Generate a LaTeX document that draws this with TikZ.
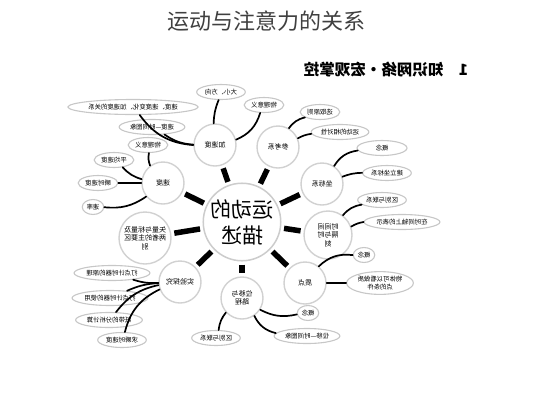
\documentclass[tikz,border=0pt]{standalone}
\usepackage{fontspec}
\newfontfamily\cjk{Noto Sans CJK SC}
\usetikzlibrary{shapes.geometric}

\tikzset{
  mirror/.style={xscale=-1},
  hub/.style={circle, draw=black!20, line width=1.5pt, fill=white, minimum size=76pt,
    inner sep=0pt, align=center, font=\cjk\fontsize{21}{26}\selectfont, mirror},
  topic/.style={circle, draw=black!18, line width=1.4pt, fill=white, minimum size=42pt,
    inner sep=0pt, align=center, font=\cjk\fontsize{7}{8.5}\selectfont, mirror},
  leaf/.style={ellipse, draw=black!22, line width=1.1pt, fill=white, inner sep=1.2pt,
    minimum height=15pt, align=center, font=\cjk\fontsize{6.4}{7.8}\selectfont, mirror},
  spoke/.style={line width=5.5pt, shorten <=3pt, shorten >=3pt},
  twig/.style={line width=1.7pt, line cap=round},
}

\begin{document}
\begin{tikzpicture}[x=1pt,y=-1pt]
  \useasboundingbox (0,0) rectangle (533,400);

  % Titles
  \node[font=\cjk\fontsize{22}{26}\selectfont, text=black!75] (title) at (266,21) {运动与注意力的关系};
  \node[font=\cjk\bfseries\fontsize{15.5}{18}\selectfont, mirror] (head) at (386,70) {1\quad 知识网络·宏观掌控};

  % Define nodes
  \node[hub]   (c)   at (242,222) {运动的\\描述};
  \node[topic] (jsd) at (215,145) {加速度};
  \node[topic] (sd)  at (163,183) {速度};
  \node[topic, minimum size=52pt] (sl) at (145,238) {矢量与标量及\\两者的主要区\\别};
  \node[topic] (sy)  at (180,282) {实验探究};
  \node[topic] (wy)  at (242,298) {位移与\\路程};
  \node[topic] (zd)  at (305,283) {质点};
  \node[topic, minimum size=48pt] (sj) at (328,235) {时间间\\隔与时\\刻};
  \node[topic] (zb)  at (322,184) {坐标系};
  \node[topic] (ck)  at (278,147) {参考系};

  \node[leaf] (jsd-dx) at (221,92)  {大小、方向};
  \node[leaf] (jsd-gx) at (133,107) {速度、速度变化、加速度的关系};
  \node[leaf] (jsd-vt) at (152,127) {速度—时间图象};
  \node[leaf] (jsd-yy) at (264,105) {物理意义};

  \node[leaf] (sd-yy) at (148,145) {物理意义};
  \node[leaf] (sd-pj) at (114,160) {平均速度};
  \node[leaf] (sd-ss) at (98,183)  {瞬时速度};
  \node[leaf] (sd-sl) at (93,207)  {速率};

  \node[leaf] (sy-yl) at (112,273) {打点计时器的原理};
  \node[leaf] (sy-sy) at (110,298) {打点计时器的使用};
  \node[leaf] (sy-zd) at (109,320) {纸带的分析计算};
  \node[leaf] (sy-qs) at (122,340) {求瞬时速度};

  \node[leaf] (wy-qb) at (216,338) {区别与联系};
  \node[leaf] (wy-gn) at (308,313) {概念};
  \node[leaf] (wy-xt) at (307,336) {位移—时间图象};

  \node[leaf] (zd-gn) at (364,255) {概念};
  \node[leaf] (zd-tj) at (380,283) {物体可以看做质\\点的条件};

  \node[leaf] (sj-qb) at (382,200) {区别与联系};
  \node[leaf] (sj-zs) at (402,222) {在时间轴上的表示};

  \node[leaf, minimum width=50pt] (zb-gn) at (382,148) {概念};
  \node[leaf] (zb-jl) at (387,173) {建立坐标系};

  \node[leaf] (ck-xq) at (320,112) {选取原则};
  \node[leaf] (ck-xd) at (340,132) {运动的相对性};

  % Connect the nodes
  \foreach \t in {jsd,sd,sl,sy,wy,zd,sj,zb,ck}
    \draw[spoke] (c) -- (\t);

  \draw[twig] (jsd) to[bend left=10]  (jsd-dx);
  \draw[twig] (jsd) to[bend left=25]  (jsd-gx);
  \draw[twig] (jsd) to[bend left=15]  (jsd-vt);
  \draw[twig] (jsd) to[bend right=25] (jsd-yy);

  \draw[twig] (sd) to[bend left=15]  (sd-yy);
  \draw[twig] (sd) to[bend left=15]  (sd-pj);
  \draw[twig] (sd) -- (sd-ss);
  \draw[twig] (sd) to[bend left=20]  (sd-sl);

  \draw[twig] (sy) to[bend left=10]  (sy-yl);
  \draw[twig] (sy) to[bend right=10] (sy-sy);
  \draw[twig] (sy) to[bend right=20] (sy-zd);
  \draw[twig] (sy) to[bend right=25] (sy-qs);

  \draw[twig] (wy) to[bend right=15] (wy-qb);
  \draw[twig] (wy) to[bend right=20] (wy-gn);
  \draw[twig] (wy) to[bend right=25] (wy-xt);

  \draw[twig] (zd) to[bend left=25]  (zd-gn);
  \draw[twig] (zd) -- (zd-tj);

  \draw[twig] (sj) to[bend left=20]  (sj-qb);
  \draw[twig] (sj) to[bend left=10]  (sj-zs);

  \draw[twig] (zb) to[bend left=25]  (zb-gn);
  \draw[twig] (zb) to[bend left=10]  (zb-jl);

  \draw[twig] (ck) to[bend left=20]  (ck-xq);
  \draw[twig] (ck) to[bend left=10]  (ck-xd);
\end{tikzpicture}
\end{document}
